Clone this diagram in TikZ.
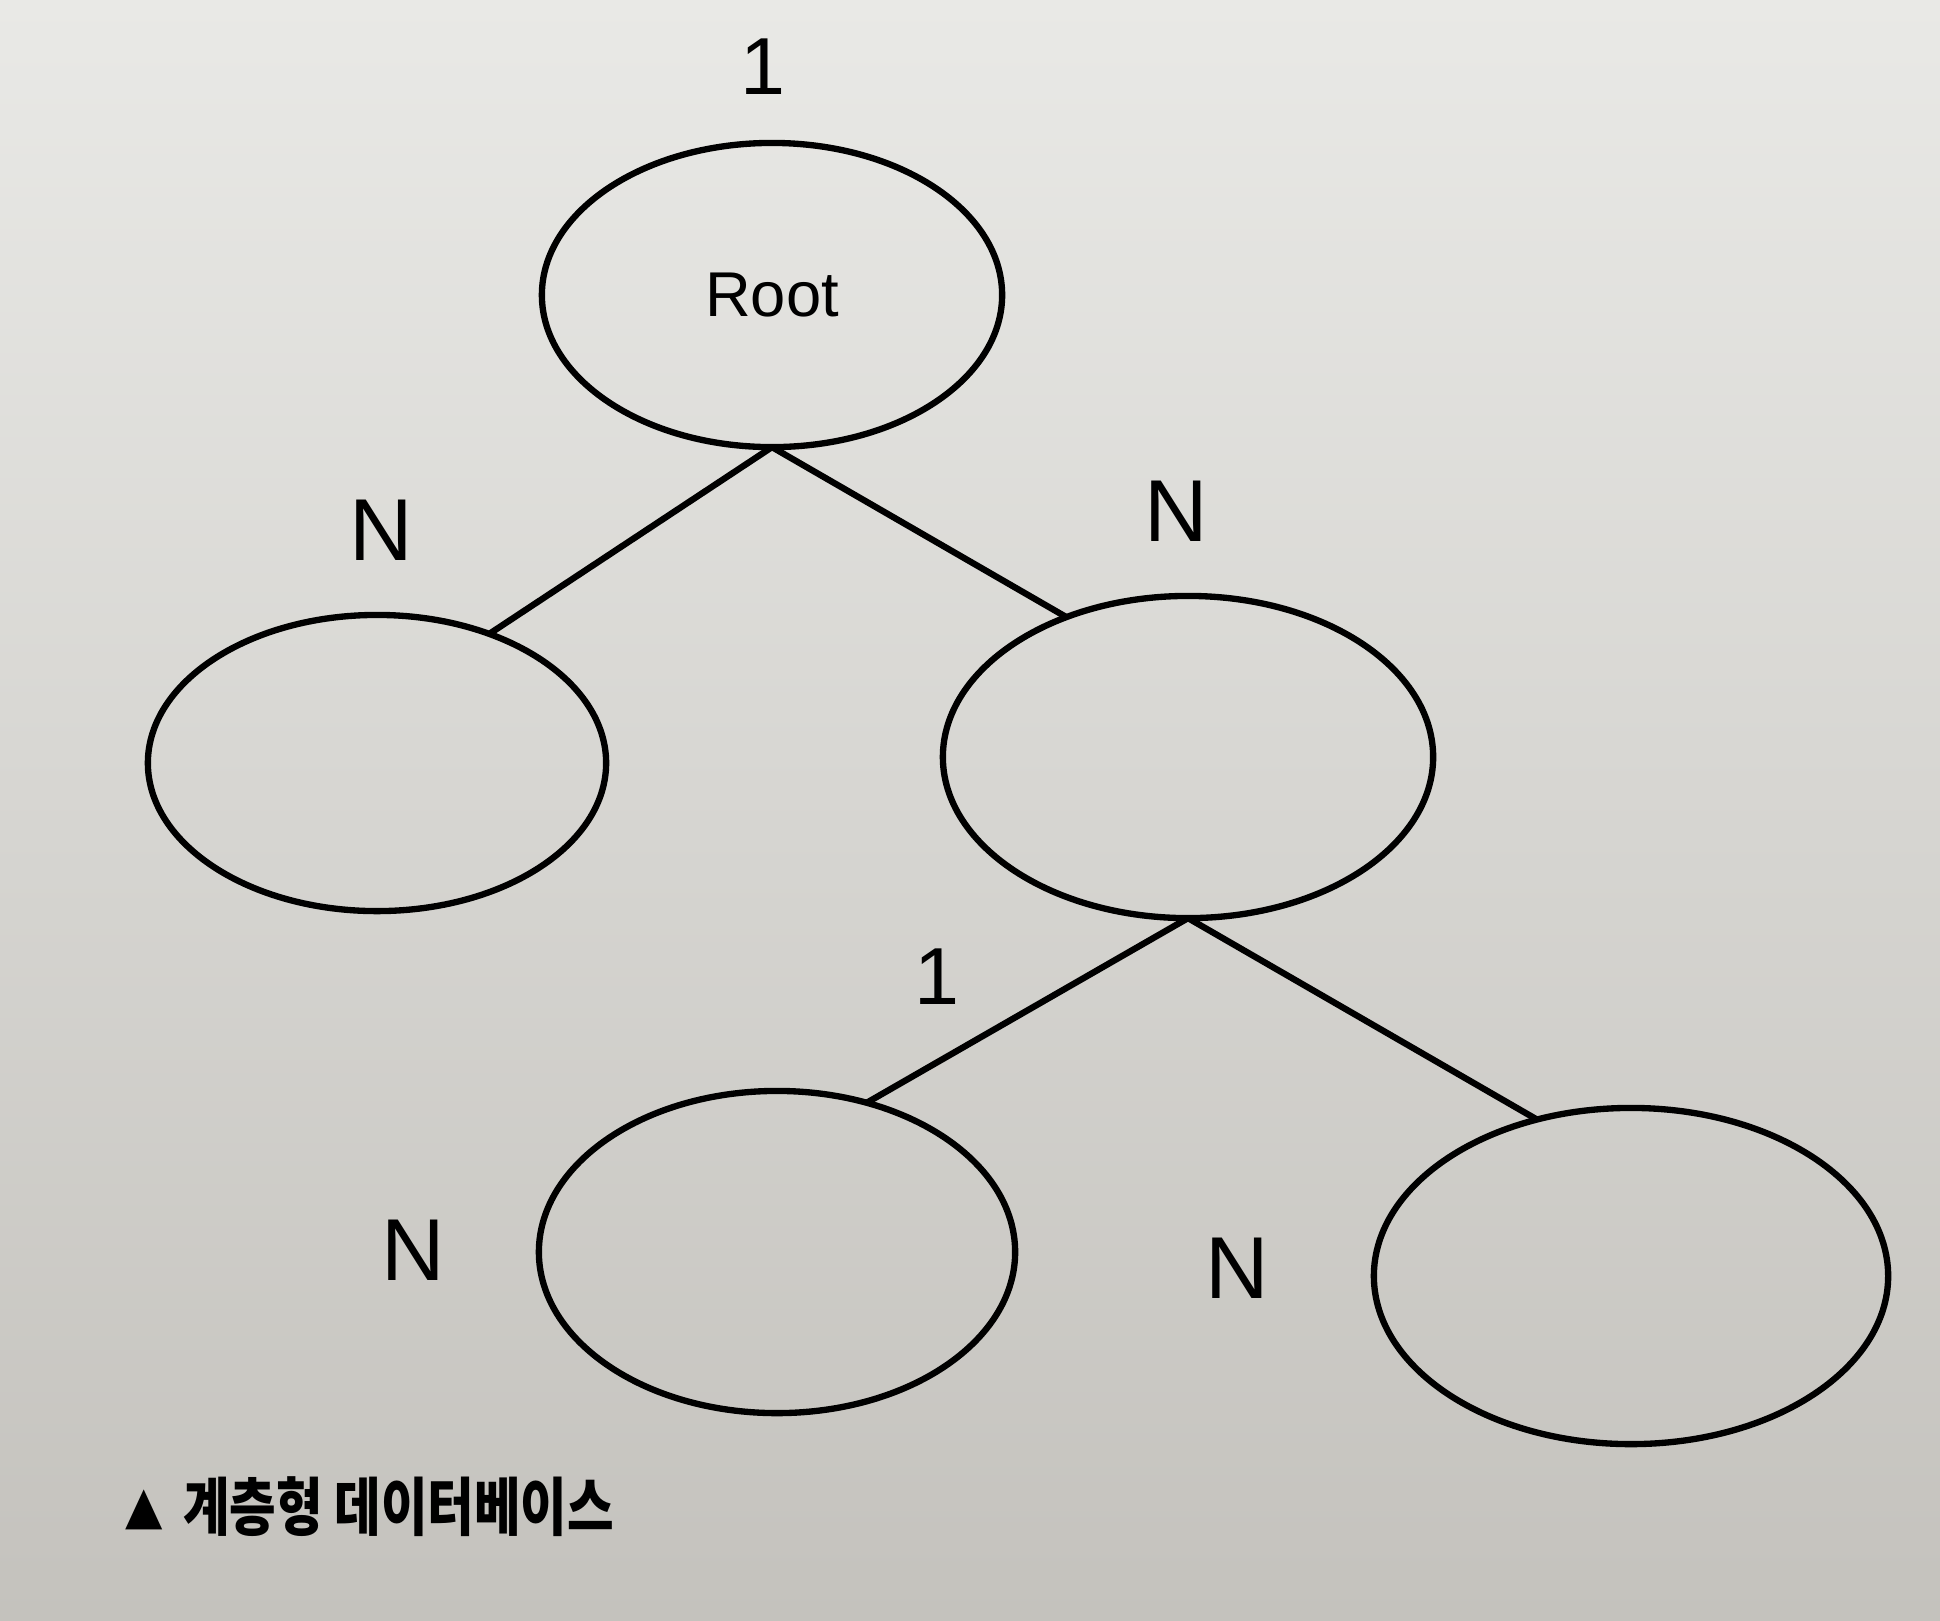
\documentclass[tikz,border=0pt]{standalone}
\usepackage{fontspec}
\setmainfont{Liberation Sans}
\newfontfamily\kofont[FakeStretch=0.8]{Noto Sans CJK KR}
\usetikzlibrary{shapes.geometric}
\definecolor{paper}{RGB}{233,233,230}
\definecolor{paperdark}{RGB}{196,194,189}

\begin{document}
\begin{tikzpicture}[x=0.01cm,y=-0.01cm]
	\tikzset{rec/.style={draw,ellipse,line width=1.8pt,inner sep=0pt,outer sep=0pt},
		card/.style={font=\fontsize{25}{30}\selectfont}}
	\shade[top color=paper,bottom color=paperdark] (0,0) rectangle (1940,1620);
	\useasboundingbox (0,0) rectangle (1940,1620);
	\node[rec,minimum width=4.60cm,minimum height=3.04cm,font=\fontsize{18}{21}\selectfont] (root) at (772,295) {Root};
	\node[rec,minimum width=4.58cm,minimum height=2.96cm] (left) at (377,763) {};
	\node[rec,minimum width=4.90cm,minimum height=3.22cm] (mid) at (1188,757) {};
	\node[rec,minimum width=4.76cm,minimum height=3.22cm] (lowl) at (777,1252) {};
	\node[rec,minimum width=5.14cm,minimum height=3.36cm] (lowr) at (1631,1276) {};
	\draw[line width=1.8pt] (root.south) -- (left.49);
	\draw[line width=1.8pt] (root.south) -- (mid.131);
	\draw[line width=1.8pt] (mid.south) -- (lowl.59);
	\draw[line width=1.8pt] (mid.south) -- (lowr.121);
	\node[font=\fontsize{23}{28}\selectfont] (one) at (763,67) {1};
	\node[card] (nl) at (381,530) {N};
	\node[card] (nr) at (1176,511) {N};
	\node[font=\fontsize{23}{28}\selectfont] (onel) at (937,977) {1};
	\node[card] (nll) at (413,1250) {N};
	\node[card] (nrr) at (1237,1268) {N};
	\node[anchor=west,inner sep=0pt,font=\kofont\bfseries\fontsize{18}{22}\selectfont] (cap) at (124,1507) {{\fontsize{14}{17}\selectfont▲}\hspace{0.3em}계층형 데이터베이스};
\end{tikzpicture}
\end{document}
